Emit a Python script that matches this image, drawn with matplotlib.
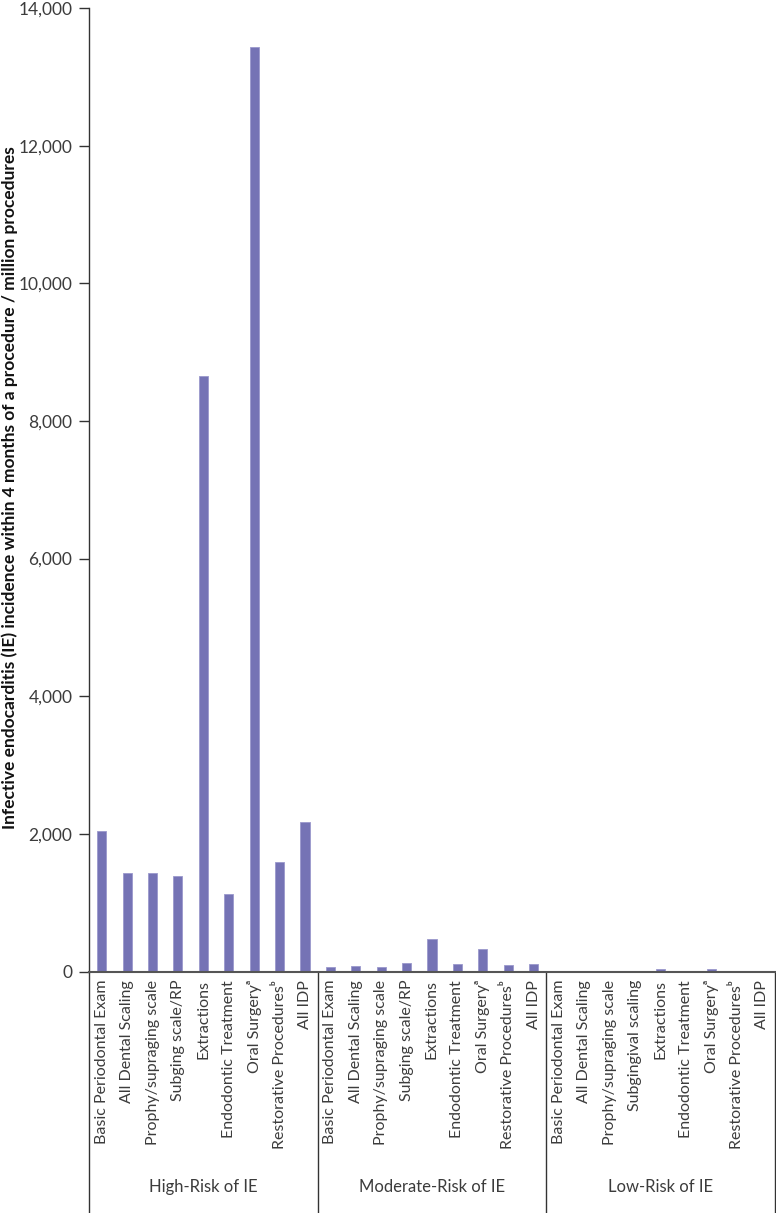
import matplotlib
matplotlib.use("Agg")
import matplotlib.pyplot as plt
import numpy as np

plt.rcParams['font.family'] = ['Lato', 'DejaVu Sans']

groups = ["High-Risk of IE", "Moderate-Risk of IE", "Low-Risk of IE"]
labels_high = ["Basic Periodontal Exam", "All Dental Scaling", "Prophy/supraging scale",
               "Subging scale/RP", "Extractions", "Endodontic Treatment",
               "Oral Surgery\u1d43", "Restorative Procedures\u1d47", "All IDP"]
labels_mod = ["Basic Periodontal Exam", "All Dental Scaling", "Prophy/supraging scale",
              "Subging scale/RP", "Extractions", "Endodontic Treatment",
              "Oral Surgery\u1d43", "Restorative Procedures\u1d47", "All IDP"]
labels_low = ["Basic Periodontal Exam", "All Dental Scaling", "Prophy/supraging scale",
              "Subgingival scaling", "Extractions", "Endodontic Treatment",
              "Oral Surgery\u1d43", "Restorative Procedures\u1d47", "All IDP"]
values_high = [2047, 1432, 1432, 1390, 8650, 1122, 13430, 1592, 2168]
values_mod = [62, 77, 62, 125, 465, 106, 320, 92, 106]
values_low = [2, 3, 2, 4, 30, 3, 30, 3, 4]
yticks = [0, 2000, 4000, 6000, 8000, 10000, 12000, 14000]
ylabel = "Infective endocarditis (IE) incidence within 4 months of a procedure / million procedures"

labels = labels_high + labels_mod + labels_low
values = values_high + values_mod + values_low
x = np.arange(len(values))

W, H = 776, 1213
fig = plt.figure(figsize=(W / 100, H / 100), dpi=100)
ax = fig.add_axes([89 / W, 1 - 971.5 / H, (775 - 89) / W, (971.5 - 8) / H])

text_color = "#3c3c3c"
bar_color = "#7573b5"
ax.bar(x, values, width=0.36, color=bar_color, edgecolor="#9a98cc", linewidth=0.6)

ax.set_xlim(-0.5, len(values) - 0.5)
ax.set_ylim(0, 14000)
ax.set_yticks(yticks)
ax.set_yticklabels([f"{v:,}" for v in yticks], fontsize=12.5, color=text_color,
                   fontweight="normal")
ax.tick_params(axis="y", direction="out", length=7, width=1, color="#333333", pad=5)

ax.set_xticks(x)
ax.set_xticklabels(labels, rotation=90, fontsize=11.5, color=text_color,
                   fontweight="normal", va="top", ha="center")
ax.tick_params(axis="x", length=0, pad=6)

for s in ["top", "right"]:
    ax.spines[s].set_visible(False)
ax.spines["left"].set_color("#333333")
ax.spines["bottom"].set_color("#555555")
ax.spines["left"].set_linewidth(1.0)
ax.spines["bottom"].set_linewidth(1.5)

fig.text(10 / W, 1 - 488 / H, ylabel, rotation=90, ha="center", va="center",
         fontsize=12.5, fontweight="bold", color="#111111")

trans = ax.get_xaxis_transform()
for xs in [-0.5, 8.5, 17.5, 26.5]:
    ax.plot([xs, xs], [0, -0.3], transform=trans, color="#333333", linewidth=1.0,
            clip_on=False)

label_y = -(1187 - 971.5) / (971.5 - 8)
for i, g in enumerate(groups):
    ax.text(i * 9 + 4, label_y, g, transform=trans, ha="center", va="center",
            fontsize=12, color=text_color, fontweight="normal")

fig.savefig("out.png", dpi=100)
